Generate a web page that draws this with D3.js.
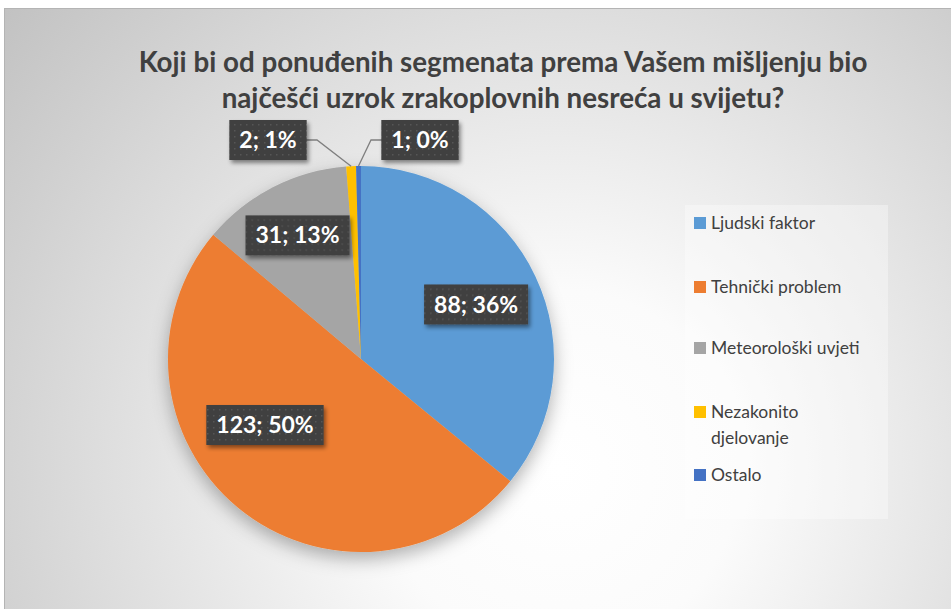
<!DOCTYPE html>
<html>
<head>
<meta charset="utf-8">
<script src="https://cdn.jsdelivr.net/npm/d3@7"></script>
<style>
  html, body { margin: 0; padding: 0; background: #fff; }
  svg { display: block; }
</style>
</head>
<body>
<svg id="chart" width="951" height="609"></svg>
<script>
// chart data
const categories = ["Ljudski faktor", "Tehnički problem", "Meteorološki uvjeti", "Nezakonito djelovanje", "Ostalo"];
const values     = [88, 123, 31, 2, 1];
const colors     = ["#5b9bd5", "#ed7d31", "#a5a5a5", "#ffc000", "#4472c4"];
const titleLines = ["Koji bi od ponuđenih segmenata prema Vašem mišljenju bio", "najčešći uzrok zrakoplovnih nesreća u svijetu?"];
const legendLines = [["Ljudski faktor"], ["Tehnički problem"], ["Meteorološki uvjeti"], ["Nezakonito", "djelovanje"], ["Ostalo"]];

const W = 951, H = 609;
const svg = d3.select("#chart");
const defs = svg.append("defs");

// background gradient
const grad = defs.append("radialGradient")
  .attr("id", "bg")
  .attr("gradientUnits", "userSpaceOnUse")
  .attr("cx", 560).attr("cy", 470).attr("r", 720);
grad.append("stop").attr("offset", 0).attr("stop-color", "#ffffff");
grad.append("stop").attr("offset", 0.25).attr("stop-color", "#fbfbfb");
grad.append("stop").attr("offset", 1).attr("stop-color", "#c2c2c2");

// dotted fill for data labels
const pat = defs.append("pattern")
  .attr("id", "dots")
  .attr("width", 6).attr("height", 6)
  .attr("patternUnits", "userSpaceOnUse");
pat.append("rect").attr("width", 6).attr("height", 6).attr("fill", "#3f3f3f");
pat.append("rect").attr("x", 2).attr("y", 2).attr("width", 1.5).attr("height", 1.5).attr("fill", "#575757");

const pieShadow = defs.append("filter").attr("id", "pieShadow")
  .attr("x", "-20%").attr("y", "-20%").attr("width", "140%").attr("height", "150%");
pieShadow.append("feDropShadow")
  .attr("dx", 0).attr("dy", 7).attr("stdDeviation", 9)
  .attr("flood-color", "#000").attr("flood-opacity", 0.3);

const boxShadow = defs.append("filter").attr("id", "boxShadow")
  .attr("x", "-20%").attr("y", "-30%").attr("width", "150%").attr("height", "170%");
boxShadow.append("feDropShadow")
  .attr("dx", 2).attr("dy", 3).attr("stdDeviation", 2)
  .attr("flood-color", "#000").attr("flood-opacity", 0.45);

// chart area
svg.append("rect")
  .attr("x", 4.5).attr("y", 8.5)
  .attr("width", W + 10).attr("height", H + 10)
  .attr("fill", "url(#bg)")
  .attr("stroke", "#b4b4b4");

// title
const title = svg.append("g")
  .attr("font-family", "Lato, 'Open Sans', sans-serif")
  .attr("font-weight", "bold")
  .attr("fill", "#404040")
  .attr("text-anchor", "middle");
const titleText = title.selectAll("text")
  .data(titleLines)
  .join("text")
  .attr("x", 503)
  .attr("y", (d, i) => 72 + i * 36)
  .attr("font-size", 26)
  .text(d => d);
// fit first line to the reference width
const w0 = titleText.node().getComputedTextLength();
titleText.attr("font-size", 26 * 729 / w0);

// pie
const cx = 361, cy = 359, R = 193;
const total = d3.sum(values);
const data = categories.map((c, i) => ({ name: c, value: values[i], color: colors[i] }));
const pie = d3.pie().sort(null).value(d => d.value);
const arcs = pie(data);
const arc = d3.arc().innerRadius(0).outerRadius(R);

const g = svg.append("g").attr("transform", `translate(${cx},${cy})`);
g.append("g")
  .attr("filter", "url(#pieShadow)")
  .selectAll("path")
  .data(arcs)
  .join("path")
  .attr("fill", d => d.data.color)
  .attr("d", arc);

// label positions: inside for big slices, outside with leader for tiny ones
const labelArc = d3.arc().innerRadius(0).outerRadius(R);
function labelPos(d, i) {
  const a = (d.startAngle + d.endAngle) / 2;
  if (i === 0) return [Math.sin(a) * R * 0.66, -Math.cos(a) * R * 0.66];
  if (i === 1) return [-96, 66];
  if (i === 2) return [Math.sin(a) * R * 0.72, -Math.cos(a) * R * 0.72];
  if (i === 3) return [-93, -219];
  return [59, -219];
}

// leader lines for the small slices
arcs.forEach((d, i) => {
  if (i < 3) return;
  const a = (d.startAngle + d.endAngle) / 2;
  const p0 = [Math.sin(a) * R, -Math.cos(a) * R];
  const lp = labelPos(d, i);
  const side = i === 3 ? 1 : -1;
  const edge = lp[0] + side * 38;
  const elbow = edge + side * 11;
  g.append("polyline")
    .attr("points", [[edge, lp[1]], [elbow, lp[1]], p0].map(p => p.join(",")).join(" "))
    .attr("fill", "none")
    .attr("stroke", "#7f7f7f")
    .attr("stroke-width", 1.3);
});

const labels = g.append("g")
  .attr("font-family", "Lato, 'Open Sans', sans-serif")
  .attr("font-weight", "bold")
  .attr("font-size", 23)
  .selectAll("g")
  .data(arcs)
  .join("g")
  .attr("transform", (d, i) => `translate(${labelPos(d, i)})`);

labels.append("text")
  .attr("text-anchor", "middle")
  .attr("dy", "0.35em")
  .attr("fill", "#fff")
  .text(d => `${d.data.value}; ${Math.round(d.data.value / total * 100)}%`);

labels.each(function () {
  const t = d3.select(this).select("text");
  const w = t.node().getComputedTextLength();
  d3.select(this).insert("rect", "text")
    .attr("x", -w / 2 - 10)
    .attr("y", -20)
    .attr("width", w + 20)
    .attr("height", 40)
    .attr("fill", "url(#dots)")
    .attr("filter", "url(#boxShadow)");
});

// legend
const legend = svg.append("g").attr("transform", "translate(685,205)");
legend.append("rect")
  .attr("width", 203).attr("height", 314)
  .attr("fill", "#ffffff").attr("fill-opacity", 0.35);

const rowY = [18, 82, 143, 207, 270];
const items = legend.selectAll("g.item")
  .data(data)
  .join("g")
  .attr("class", "item")
  .attr("transform", (d, i) => `translate(9,${rowY[i]})`);
items.append("rect")
  .attr("x", 0).attr("y", -6)
  .attr("width", 12).attr("height", 12)
  .attr("fill", d => d.color);
items.append("text")
  .attr("font-family", "Lato, 'Open Sans', sans-serif")
  .attr("font-size", 17.5)
  .attr("fill", "#404040")
  .selectAll("tspan")
  .data((d, i) => legendLines[i])
  .join("tspan")
  .attr("x", 17)
  .attr("y", (d, j) => 6 + j * 26)
  .text(d => d);
</script>
</body>
</html>
